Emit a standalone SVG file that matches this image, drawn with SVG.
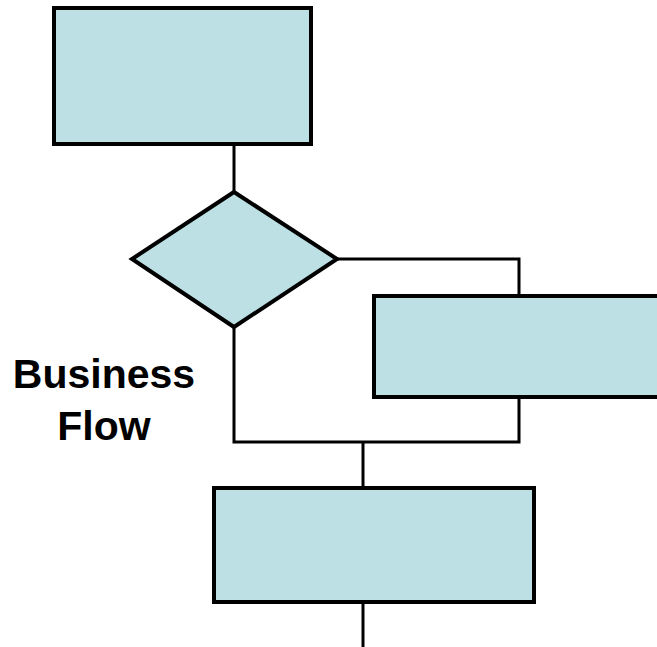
<svg xmlns="http://www.w3.org/2000/svg" width="657" height="647" viewBox="0 0 657 647">
<style>
.node{fill:#bce0e3;stroke:#000;stroke-width:4}
.conn{fill:none;stroke:#000;stroke-width:3}
.lbl{font-family:"Liberation Sans",Arial,sans-serif;font-weight:bold;font-size:41px;fill:#000;text-anchor:middle}
</style>
<rect width="657" height="647" fill="#fff"/>
<g id="connectors">
<path class="conn" d="M234 145V192"/>
<path class="conn" d="M337 259H519V296"/>
<path class="conn" d="M519 397V442H234V327"/>
<path class="conn" d="M363 442V488"/>
<path class="conn" d="M363 602V647"/>
</g>
<g id="start"><rect class="node" x="54" y="8" width="257" height="136"/></g>
<g id="decision"><polygon class="node" points="234,192 337,259 234,327 132,259"/></g>
<g id="branch"><rect class="node" x="374" y="296" width="290" height="101"/></g>
<g id="step"><rect class="node" x="214" y="488" width="320" height="114"/></g>
<g id="label">
<text class="lbl" x="104" y="388">Business</text>
<text class="lbl" x="104" y="440">Flow</text>
</g>
</svg>
